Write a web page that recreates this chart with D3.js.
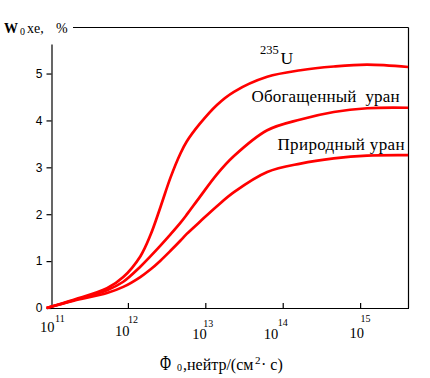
<!DOCTYPE html>
<html>
<head>
<meta charset="utf-8">
<script src="https://cdn.jsdelivr.net/npm/d3@7/dist/d3.min.js"></script>
<style>
  body { margin: 0; background: #fff; }
  svg { display: block; }
  text { font-family: "Liberation Serif", "Times New Roman", serif; fill: #000; }
  .ylab { font-family: "Liberation Sans", Arial, sans-serif; }
</style>
</head>
<body>
<svg id="chart" width="430" height="378"></svg>
<script>
// ---- data ----
// log10 of neutron flux density
const logFlux = [10.95, 11.29, 11.73, 11.94, 12.16, 12.29, 12.42, 12.55, 12.68, 12.76, 12.93, 13.15, 13.37, 13.80, 14.23, 14.66, 15.09, 15.62];
const u235     = [0.00, 0.17, 0.42, 0.66, 1.10, 1.55, 2.15, 2.78, 3.30, 3.55, 3.93, 4.33, 4.61, 4.93, 5.07, 5.15, 5.19, 5.14];
const enriched = [0.00, 0.16, 0.38, 0.56, 0.88, 1.10, 1.33, 1.57, 1.82, 1.99, 2.37, 2.85, 3.24, 3.79, 4.02, 4.18, 4.26, 4.27];
const natural  = [0.00, 0.15, 0.32, 0.45, 0.66, 0.82, 1.01, 1.22, 1.44, 1.58, 1.84, 2.17, 2.47, 2.90, 3.08, 3.19, 3.25, 3.26];
const yTicks = [0, 1, 2, 3, 4, 5];
const xTickExps = [11, 12, 13, 14, 15];
const seriesNames = ["235U", "Обогащенный  уран", "Природный уран"];

// ---- layout (not data) ----
const xLabelLayout = [
  {dx: -10.5, y: 332, ex: 4.5, ey: 322},
  {dx: -12.8, y: 336, ex: 0.2, ey: 323},
  {dx: -13,   y: 339, ex: -2,  ey: 327},
  {dx: -19,   y: 339, ex: -5,  ey: 326},
  {dx: -10.7, y: 338, ex: 0.3, ey: 322}
];

const svg = d3.select("#chart");
const x = d3.scaleLog().domain([1e11, Math.pow(10, 15.625)]).range([50.5, 408.5]);
const y = d3.scaleLinear().domain([0, 5.63]).range([308, 44]);

// frame
const frame = svg.append("g").attr("stroke", "#000").attr("stroke-width", 1.2).attr("fill", "none");
frame.append("line").attr("x1", 73).attr("x2", 408.5).attr("y1", 27.5).attr("y2", 27.5);
frame.append("line").attr("x1", 408.5).attr("x2", 408.5).attr("y1", 27.5).attr("y2", 308);

// y axis
const yAxis = svg.append("g").attr("transform", "translate(51.5,0)")
  .call(d3.axisLeft(y).tickValues(yTicks).tickSize(5).tickSizeOuter(0).tickPadding(4).tickFormat(d3.format("d")));
yAxis.select(".domain").attr("stroke-width", 1.2);
yAxis.selectAll(".tick line").attr("stroke-width", 1.2);
yAxis.selectAll(".tick text").attr("class", "ylab").style("font-size", "12px").attr("font-family", null);

// x axis
const xAxis = svg.append("g").attr("transform", "translate(0,308)")
  .call(d3.axisBottom(x).tickValues(xTickExps.slice(1).map(e => Math.pow(10, e)))
        .tickSizeInner(-5).tickSizeOuter(0).tickFormat(""));
xAxis.select(".domain").attr("stroke-width", 1.2);
xAxis.selectAll(".tick line").attr("stroke-width", 1.2);

// x tick labels: 10^n
xTickExps.forEach((e, i) => {
  const px = x(Math.pow(10, e));
  const L = xLabelLayout[i];
  svg.append("text").attr("x", px + L.dx).attr("y", L.y).style("font-size", "14.5px").text("10");
  svg.append("text").attr("x", px + L.ex).attr("y", L.ey).style("font-size", "10px").text(String(e));
});

// curves
const line = d3.line()
  .x((d, i) => x(Math.pow(10, logFlux[i])))
  .y(d => y(d))
  .curve(d3.curveCatmullRom.alpha(0.5));

[u235, enriched, natural].forEach(s => {
  svg.append("path").attr("d", line(s))
    .attr("fill", "none").attr("stroke", "#ff0000").attr("stroke-width", 2.7)
    .attr("stroke-linejoin", "round");
});

// curve labels
const t1 = svg.append("text").attr("x", 260).attr("y", 53.5);
t1.append("tspan").style("font-size", "12.5px").text("235");
t1.append("tspan").attr("x", 280.5).attr("y", 64).style("font-size", "17.5px").text("U");

svg.append("text").attr("x", 251.5).attr("y", 101.5).style("font-size", "17px").style("white-space", "pre")
  .attr("textLength", 148).text(seriesNames[1]);
svg.append("text").attr("x", 277.5).attr("y", 150).style("font-size", "17px")
  .attr("textLength", 127).text(seriesNames[2]);

// y title
const yt = svg.append("text").attr("x", 4).attr("y", 33);
yt.append("tspan").style("font-size", "14px").style("font-weight", "bold").text("W");
yt.append("tspan").attr("x", 20).attr("y", 35).style("font-size", "10px").text("0");
yt.append("tspan").attr("x", 27).attr("y", 33).style("font-size", "14px").text("xe,");
yt.append("tspan").attr("x", 56).attr("y", 33).style("font-size", "14px").text("%");

// x title
svg.append("text").attr("x", 160).attr("y", 370).style("font-size", "22px")
  .attr("textLength", 11).attr("lengthAdjust", "spacingAndGlyphs").text("Φ");
const xt = svg.append("text").attr("x", 177).attr("y", 371);
xt.append("tspan").style("font-size", "10px").text("0");
xt.append("tspan").attr("x", 183).attr("y", 370).style("font-size", "16px").text(",нейтр/(см");
xt.append("tspan").attr("x", 255).attr("y", 364).style("font-size", "11px").text("2");
xt.append("tspan").attr("x", 261).attr("y", 370).style("font-size", "16px").text("· с)");
</script>
</body>
</html>
